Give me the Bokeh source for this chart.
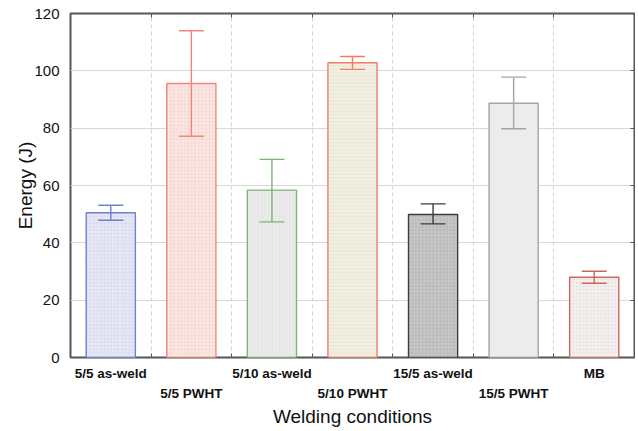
from bokeh.plotting import figure
from bokeh.models import (ColumnDataSource, FixedTicker, LinearAxis, Range1d)
from bokeh.embed import file_html
from bokeh.resources import INLINE

categories = ["5/5 as-weld", "5/5 PWHT", "5/10 as-weld", "5/10 PWHT",
              "15/5 as-weld", "15/5 PWHT", "MB"]
energy = [50.5, 95.6, 58.4, 102.8, 49.9, 88.7, 28.0]
err_up = [53.1, 114.0, 69.1, 105.0, 53.6, 97.8, 30.1]
err_lo = [47.9, 77.2, 47.3, 100.5, 46.6, 79.8, 25.9]
y_ticks = [0, 20, 40, 60, 80, 100, 120]

edge_colors = ["#6f80d2", "#f2857a", "#7fb276", "#f27e62", "#3c3c3c", "#a4a4a4", "#c86a5a"]
fill_colors = ["#e8eaf4", "#fbeae7", "#ebebeb", "#f2efe3", "#c9c9c9", "#ececec", "#f7f3f3"]
hatch_colors = ["#cfd3ec", "#f5ccc5", "#dedede", "#e3ddc8", "#b0b0b0", "#ececec", "#e6dada"]
hatch_patterns = ["+", "+", "|", "-", "+", " ", "+"]

xs = list(range(1, len(categories) + 1))
cap = 0.155
src = ColumnDataSource(dict(
    x=xs, top=energy, up=err_up, lo=err_lo,
    x0=[x - cap for x in xs], x1=[x + cap for x in xs],
    edge=edge_colors, fill=fill_colors, hatch=hatch_colors, pat=hatch_patterns,
))

FONT = "Liberation Sans"

p = figure(frame_width=564, frame_height=344, output_backend="svg", toolbar_location=None,
           x_range=Range1d(0.5, len(categories) + 0.5), y_range=Range1d(0, 120),
           min_border_left=70, min_border_right=1, min_border_top=13, min_border_bottom=0)

p.vbar(x="x", top="top", bottom=0, width=0.61, source=src,
       fill_color="fill", line_color="edge", line_width=1.4,
       hatch_pattern="pat", hatch_color="hatch", hatch_scale=3.5, hatch_weight=0.6)
p.segment(x0="x", y0="lo", x1="x", y1="up", source=src, line_color="edge", line_width=1.4)
p.segment(x0="x0", y0="up", x1="x1", y1="up", source=src, line_color="edge", line_width=1.4)
p.segment(x0="x0", y0="lo", x1="x1", y1="lo", source=src, line_color="edge", line_width=1.4)

p.outline_line_color = "#555555"
p.outline_line_width = 2

# grids
p.xgrid.ticker = FixedTicker(ticks=[x + 0.5 for x in xs[:-1]])
p.xgrid.grid_line_color = "#d4d4d4"
p.xgrid.grid_line_dash = "4 3"
p.ygrid.ticker = FixedTicker(ticks=y_ticks)
p.ygrid.grid_line_color = "#d8d8d8"

# left axis
yax = p.yaxis[0]
yax.ticker = FixedTicker(ticks=y_ticks)
yax.axis_label = "Energy (J)"
yax.axis_label_text_font = FONT
yax.axis_label_text_font_size = "19px"
yax.axis_label_text_font_style = "normal"
yax.axis_label_text_color = "#111111"
yax.axis_label_standoff = -5
yax.major_label_text_font = FONT
yax.major_label_text_font_size = "15px"
yax.major_label_text_color = "#111111"
yax.major_tick_line_color = None
yax.minor_tick_line_color = None
yax.axis_line_color = None
yax.major_label_standoff = 5

# bottom axis 1 (odd labels)
odd = {x: (c if i % 2 == 0 else "") for i, (x, c) in enumerate(zip(xs, categories))}
even = {x: (c if i % 2 == 1 else "") for i, (x, c) in enumerate(zip(xs, categories))}
xax = p.xaxis[0]
xax.ticker = FixedTicker(ticks=xs, minor_ticks=[x + 0.5 for x in xs[:-1]])
xax.major_label_overrides = odd
xax.major_label_text_font = FONT
xax.major_label_text_font_size = "13.5px"
xax.major_label_text_font_style = "bold"
xax.major_label_text_color = "#111111"
xax.major_label_standoff = 2
xax.major_tick_line_color = None
xax.minor_tick_in = 4
xax.minor_tick_out = 0
xax.minor_tick_line_color = "#555555"
xax.axis_line_color = None

xax2 = LinearAxis(ticker=FixedTicker(ticks=xs, minor_ticks=[]),
                  major_label_overrides=even,
                  major_label_text_font=FONT, major_label_text_font_size="13.5px",
                  major_label_text_font_style="bold", major_label_text_color="#111111",
                  major_label_standoff=-4,
                  major_tick_line_color=None, minor_tick_line_color=None,
                  axis_line_color=None,
                  axis_label="Welding conditions", axis_label_text_font=FONT,
                  axis_label_text_font_size="19px", axis_label_text_font_style="normal",
                  axis_label_text_color="#111111",
                  axis_label_standoff=2)
p.add_layout(xax2, "below")

# top axis: ticks at boundaries pointing in
top_ax = LinearAxis(ticker=FixedTicker(ticks=[x + 0.5 for x in xs[:-1]], minor_ticks=[]),
                    major_label_text_font_size="0px", major_tick_in=4, major_tick_out=0,
                    major_tick_line_color="#555555", minor_tick_line_color=None,
                    axis_line_color=None, major_label_standoff=0)
top_ax.major_label_overrides = {x + 0.5: "" for x in xs[:-1]}
p.add_layout(top_ax, "above")

right_ax = LinearAxis(ticker=FixedTicker(ticks=y_ticks, minor_ticks=[]),
                      major_label_text_font_size="0px", major_tick_in=4, major_tick_out=0,
                      major_tick_line_color="#555555", minor_tick_line_color=None,
                      axis_line_color=None, major_label_standoff=0)
right_ax.major_label_overrides = {t: "" for t in y_ticks}
p.add_layout(right_ax, "right")

p.background_fill_color = "white"
p.border_fill_color = "white"

open("out.html", "w").write(file_html(p, INLINE))
